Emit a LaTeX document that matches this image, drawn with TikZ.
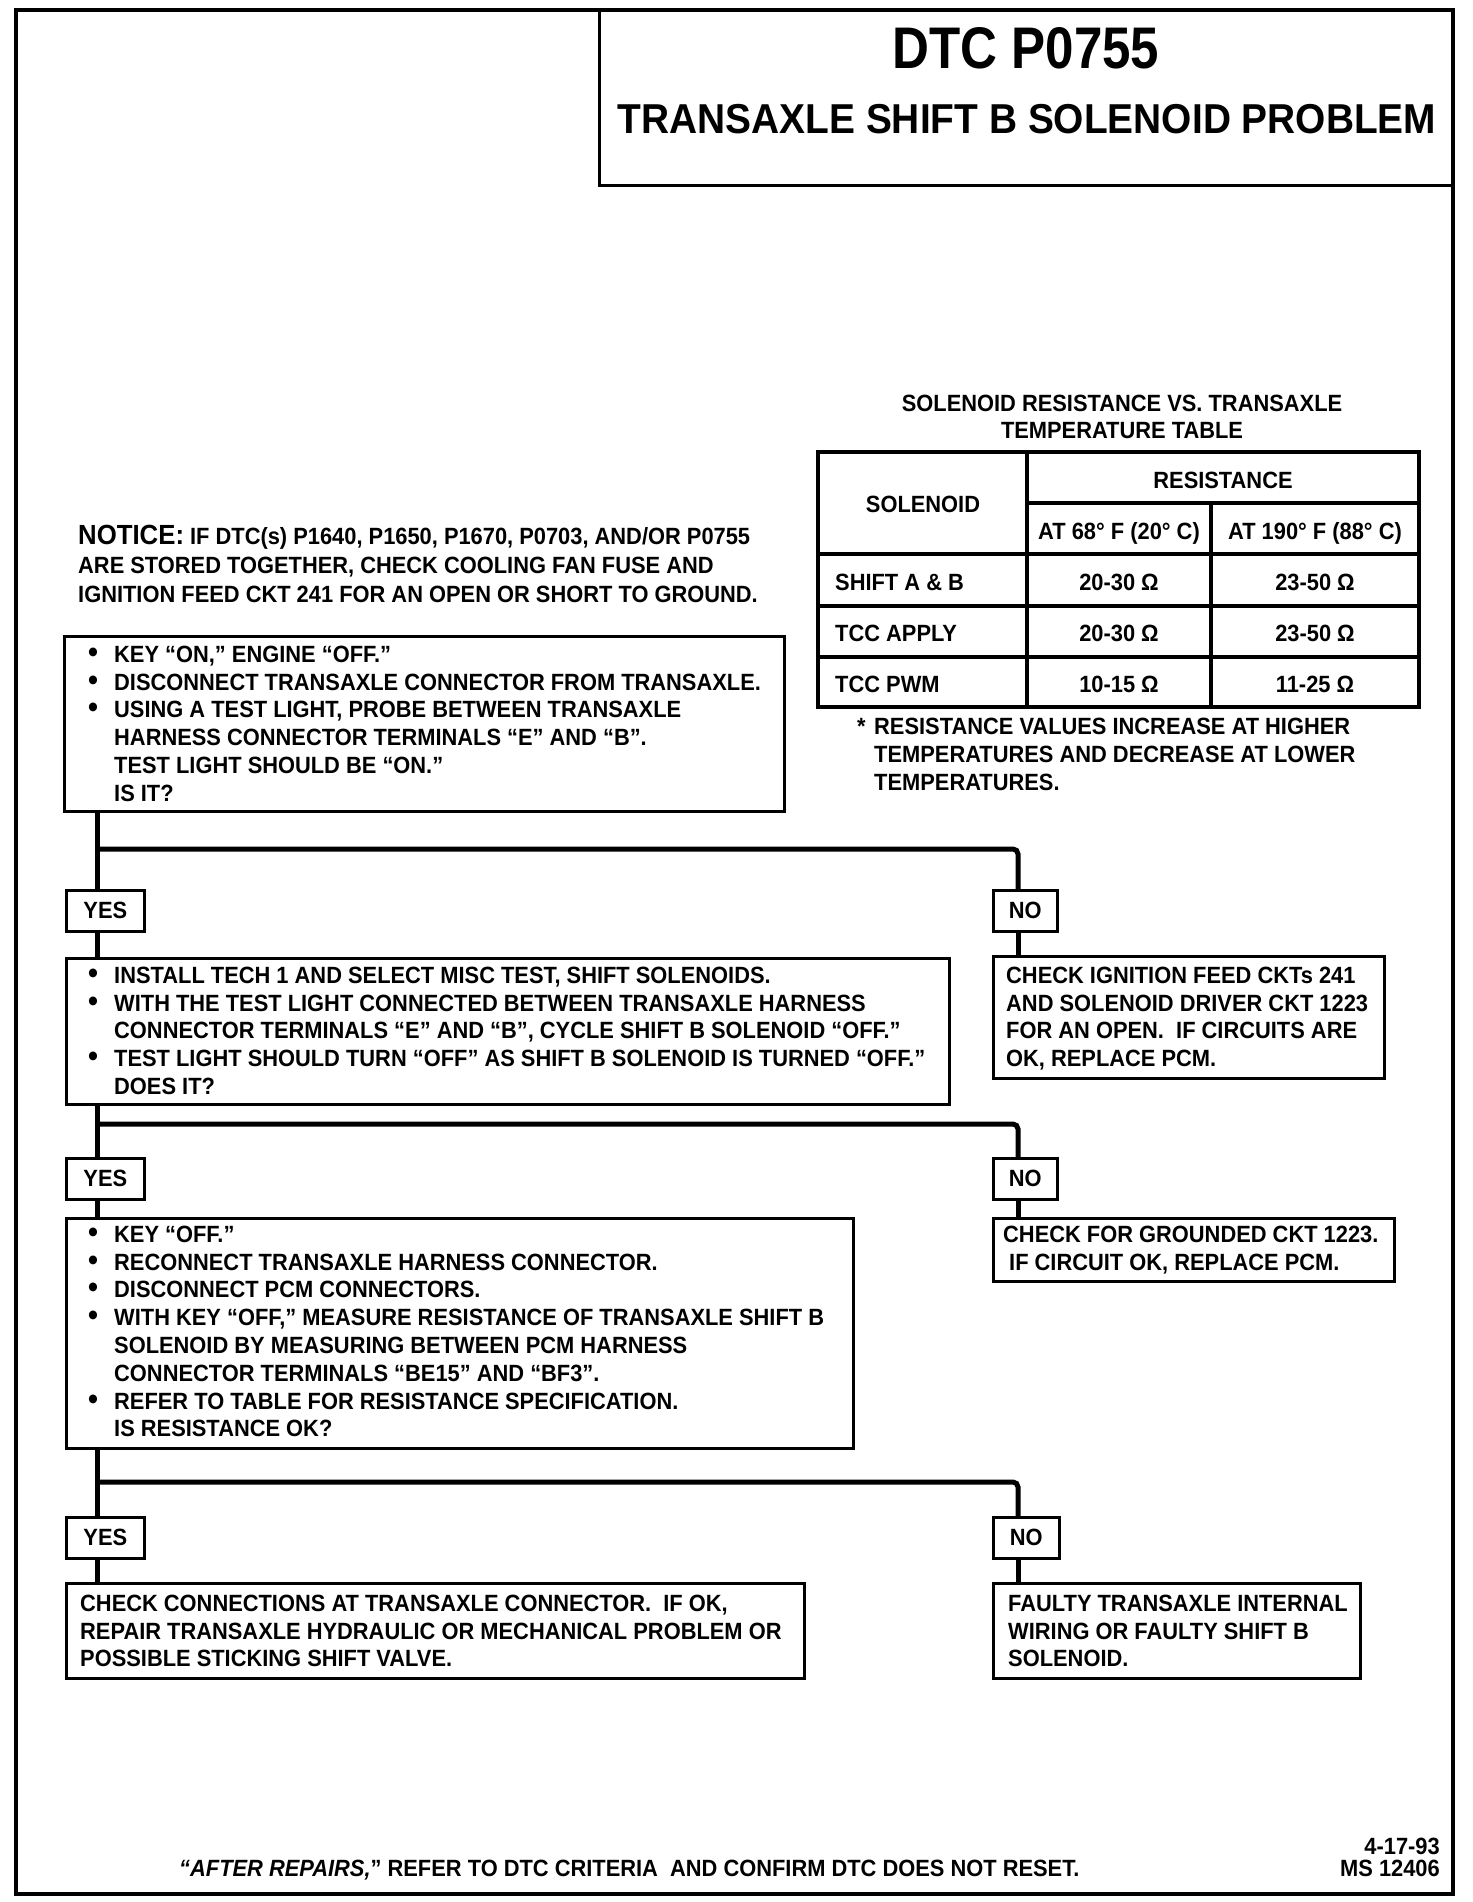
\documentclass[tikz,border=0pt]{standalone}
\usepackage{fontspec}
\setmainfont{Liberation Sans}[FakeStretch=0.93]
\newfontfamily\titlefont{Liberation Sans}[FakeStretch=0.87]
\newcommand{\bodyf}{\fontsize{23.5}{27.8}\selectfont\bfseries}
\newcommand{\bulx}{\makebox[26pt][l]{\scalebox{1.3}{•}}}
\newcommand{\indx}{\hspace*{26pt}}
\newcommand{\fl}{\rule{0pt}{18pt}}
\begin{document}
\begin{tikzpicture}[x=1pt,y=-1pt,
  frame/.style={line width=4pt},
  box/.style={draw,line width=2.6pt,inner sep=0pt,anchor=north west},
  ans/.style={draw,line width=2.6pt,inner sep=0pt,anchor=north west,font=\bodyf},
  conn/.style={line width=5pt},
  tline/.style={line width=3.6pt},
  txt/.style={anchor=north west,inner sep=0pt,font=\bodyf,align=left},
  cell/.style={anchor=base,inner sep=0pt,font=\bodyf},
]
\useasboundingbox (0,0) rectangle (1472,1902);
% frame and title box
\draw[frame] (16,10) rectangle (1453,1894);
\draw[line width=3pt] (599,10) -- (599,186) -- (1453,186);
\node[anchor=base,inner sep=0pt,font=\titlefont\fontsize{58.7}{60}\selectfont\bfseries] (ttl1) at (1026,69) {DTC P0755};
\node[anchor=base,inner sep=0pt,font=\fontsize{41.8}{44}\selectfont\bfseries] (ttl2) at (1027,134) {TRANSAXLE SHIFT B SOLENOID PROBLEM};

% table
\node[anchor=north,inner sep=0pt,align=center,font=\fontsize{23.5}{27}\selectfont\bfseries] (tabt) at (1122,393) {\fl SOLENOID RESISTANCE VS. TRANSAXLE\\TEMPERATURE TABLE};
\draw[tline] (818,452) rectangle (1419,707);
\draw[tline] (1027,452) -- (1027,707);
\draw[tline] (1211,503) -- (1211,707);
\draw[tline] (1027,503) -- (1419,503);
\draw[tline] (818,554) -- (1419,554);
\draw[tline] (818,606) -- (1419,606);
\draw[tline] (818,657) -- (1419,657);
\node[cell] (hsol) at (923,512) {SOLENOID};
\node[cell] (hres) at (1223,488) {RESISTANCE};
\node[cell] (h68) at (1119,539) {AT 68° F (20° C)};
\node[cell] (h190) at (1315,539) {AT 190° F (88° C)};
\node[cell,anchor=base west] (r1a) at (835,590) {SHIFT A \& B};
\node[cell,anchor=base west] (r2a) at (835,641) {TCC APPLY};
\node[cell,anchor=base west] (r3a) at (835,692) {TCC PWM};
\node[cell] (r1b) at (1119,590) {20-30 Ω};
\node[cell] (r2b) at (1119,641) {20-30 Ω};
\node[cell] (r3b) at (1119,692) {10-15 Ω};
\node[cell] (r1c) at (1315,590) {23-50 Ω};
\node[cell] (r2c) at (1315,641) {23-50 Ω};
\node[cell] (r3c) at (1315,692) {11-25 Ω};
\node[cell,anchor=base west] (star) at (857,734) {*};
\node[txt,font=\fontsize{23.5}{28}\selectfont\bfseries] (fnote) at (874,716) {\fl RESISTANCE VALUES INCREASE AT HIGHER\\TEMPERATURES AND DECREASE AT LOWER\\TEMPERATURES.};

% notice
\node[txt,font=\fontsize{23.5}{29}\selectfont\bfseries] (notice) at (78,523) {\rule{0pt}{21pt}{\fontsize{27.7}{29}\selectfont NOTICE:} IF DTC(s) P1640, P1650, P1670, P0703, AND/OR P0755\\ARE STORED TOGETHER, CHECK COOLING FAN FUSE AND\\IGNITION FEED CKT 241 FOR AN OPEN OR SHORT TO GROUND.};

% step 1
\node[box,minimum width=720,minimum height=175] (b1) at (63,635) {};
\node[txt] (b1t) at (88,644) {\fl\bulx KEY “ON,” ENGINE “OFF.”\\\bulx DISCONNECT TRANSAXLE CONNECTOR FROM TRANSAXLE.\\\bulx USING A TEST LIGHT, PROBE BETWEEN TRANSAXLE\\\indx HARNESS CONNECTOR TERMINALS “E” AND “B”.\\\indx TEST LIGHT SHOULD BE “ON.”\\\indx IS IT?};
\node[ans,minimum width=78,minimum height=41] (y1) at (65,889) {YES};
\node[ans,minimum width=64,minimum height=41] (n1) at (992,889) {NO};

% step 2
\node[box,minimum width=883,minimum height=146] (b2) at (65,957) {};
\node[txt] (b2t) at (88,965) {\fl\bulx INSTALL TECH 1 AND SELECT MISC TEST, SHIFT SOLENOIDS.\\\bulx WITH THE TEST LIGHT CONNECTED BETWEEN TRANSAXLE HARNESS\\\indx CONNECTOR TERMINALS “E” AND “B”, CYCLE SHIFT B SOLENOID “OFF.”\\\bulx TEST LIGHT SHOULD TURN “OFF” AS SHIFT B SOLENOID IS TURNED “OFF.”\\\indx DOES IT?};
\node[box,minimum width=391,minimum height=122] (r1) at (992,955) {};
\node[txt] (r1t) at (1006,965) {\fl CHECK IGNITION FEED CKTs 241\\AND SOLENOID DRIVER CKT 1223\\FOR AN OPEN.\ \ IF CIRCUITS ARE\\OK, REPLACE PCM.};
\node[ans,minimum width=78,minimum height=41] (y2) at (65,1157) {YES};
\node[ans,minimum width=64,minimum height=41] (n2) at (992,1157) {NO};

% step 3
\node[box,minimum width=787,minimum height=230] (b3) at (65,1217) {};
\node[txt] (b3t) at (88,1224) {\fl\bulx KEY “OFF.”\\\bulx RECONNECT TRANSAXLE HARNESS CONNECTOR.\\\bulx DISCONNECT PCM CONNECTORS.\\\bulx WITH KEY “OFF,” MEASURE RESISTANCE OF TRANSAXLE SHIFT B\\\indx SOLENOID BY MEASURING BETWEEN PCM HARNESS\\\indx CONNECTOR TERMINALS “BE15” AND “BF3”.\\\bulx REFER TO TABLE FOR RESISTANCE SPECIFICATION.\\\indx IS RESISTANCE OK?};
\node[box,minimum width=401,minimum height=63] (r2) at (992,1217) {};
\node[txt] (r2t) at (1003,1224) {\fl CHECK FOR GROUNDED CKT 1223.\\\hspace*{6pt}IF CIRCUIT OK, REPLACE PCM.};
\node[ans,minimum width=78,minimum height=41] (y3) at (65,1516) {YES};
\node[ans,minimum width=66,minimum height=41] (n3) at (992,1516) {NO};

% results
\node[box,minimum width=738,minimum height=95] (b4) at (65,1582) {};
\node[txt] (b4t) at (80,1593) {\fl CHECK CONNECTIONS AT TRANSAXLE CONNECTOR.\ \ IF OK,\\REPAIR TRANSAXLE HYDRAULIC OR MECHANICAL PROBLEM OR\\POSSIBLE STICKING SHIFT VALVE.};
\node[box,minimum width=367,minimum height=95] (r3) at (992,1582) {};
\node[txt] (r3t) at (1008,1593) {\fl FAULTY TRANSAXLE INTERNAL\\WIRING OR FAULTY SHIFT B\\SOLENOID.};

% connectors
\coordinate (tx) at (97,0);
\coordinate (nx) at (1018,0);
\coordinate (j1) at (97,849);
\coordinate (j2) at (97,1124);
\coordinate (j3) at (97,1482);
\draw[conn] (b1.south -| tx) -- (y1.north -| tx);
\draw[conn,rounded corners=5pt] (j1) -| (n1.north -| nx);
\draw[conn] (y1.south -| tx) -- (b2.north -| tx);
\draw[conn] (n1.south -| nx) -- (r1.north -| nx);
\draw[conn] (b2.south -| tx) -- (y2.north -| tx);
\draw[conn,rounded corners=5pt] (j2) -| (n2.north -| nx);
\draw[conn] (y2.south -| tx) -- (b3.north -| tx);
\draw[conn] (n2.south -| nx) -- (r2.north -| nx);
\draw[conn] (b3.south -| tx) -- (y3.north -| tx);
\draw[conn,rounded corners=5pt] (j3) -| (n3.north -| nx);
\draw[conn] (y3.south -| tx) -- (b4.north -| tx);
\draw[conn] (n3.south -| nx) -- (r3.north -| nx);

% footer
\node[anchor=base west,inner sep=0pt,font=\bodyf] (foot) at (179,1876) {\textit{“AFTER REPAIRS,}” REFER TO DTC CRITERIA\ \ AND CONFIRM DTC DOES NOT RESET.};
\node[anchor=north east,inner sep=0pt,align=right,font=\fontsize{23.5}{22}\selectfont\bfseries] (date) at (1440,1836) {\fl 4-17-93\\MS 12406};
\end{tikzpicture}
\end{document}
